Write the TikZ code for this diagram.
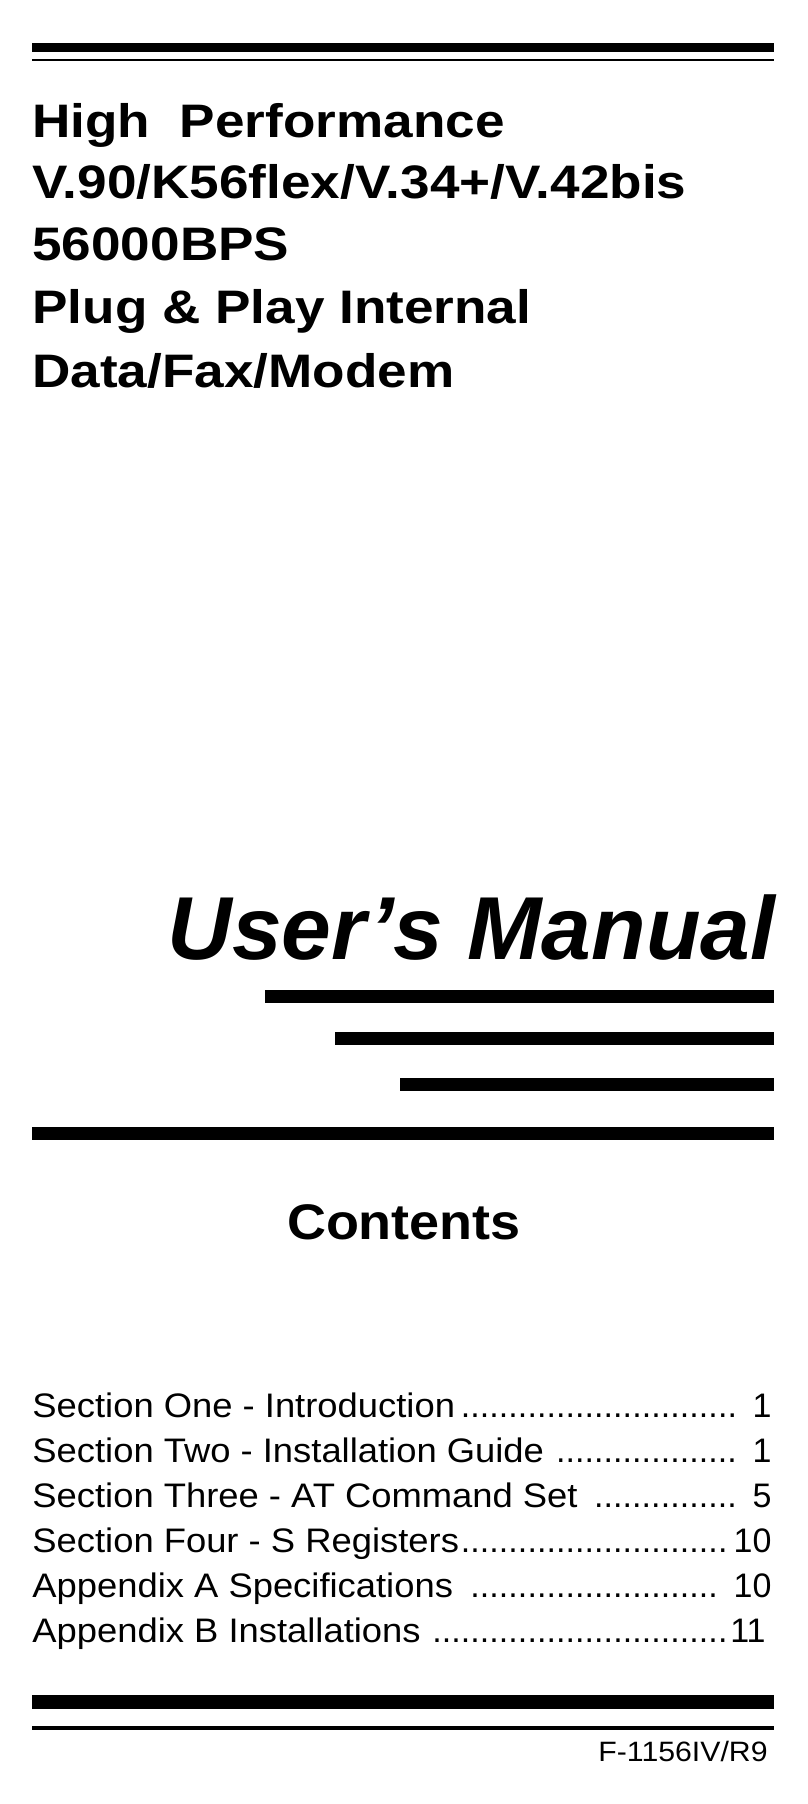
\documentclass[tikz,border=0pt]{standalone}
\usepackage{fontspec}
\setmainfont{Liberation Sans}
\newcommand{\tocdots}{\leaders\hbox to 0.28em{\hss.\hss}\hfill}
\begin{document}
\begin{tikzpicture}[x=0.5pt,y=0.5pt,yscale=-1,xscale=1]
\tikzset{title/.style={anchor=base west,inner sep=0pt,font=\fontsize{23.5}{26}\selectfont\bfseries},
toc/.style={anchor=base west,inner sep=0pt,font=\fontsize{17}{20}\selectfont}}
\useasboundingbox (0,0) rectangle (808,1804);

%Shape: Rectangle
\fill (32,43) -- (774,43) -- (774,52) -- (32,52) -- cycle ;
%Shape: Line
\draw [line width=1pt] (32,60) -- (774,60) ;

% Text Node
\node [title] (high) at (32,137) {\scalebox{1.13}[1]{High\ \ Performance}};
% Text Node
\node [title] (std) at (32,198) {\scalebox{1.13}[1]{V.90/K56flex/V.34+/V.42bis}};
% Text Node
\node [title] (bps) at (32,260) {\scalebox{1.13}[1]{56000BPS}};
% Text Node
\node [title] (pnp) at (32,323) {\scalebox{1.13}[1]{Plug\ \& Play\ Internal}};
% Text Node
\node [title] (dfm) at (32,387) {\scalebox{1.13}[1]{Data/Fax/Modem}};

% Text Node
\node [anchor=base east,inner sep=0pt,font=\fontsize{44.7}{48}\selectfont\bfseries\itshape] (manual) at (776,959) {User\char"0027 s Manual};

%Shape: Rectangle
\fill (265,990) -- (774,990) -- (774,1003) -- (265,1003) -- cycle ;
%Shape: Rectangle
\fill (335,1032) -- (774,1032) -- (774,1045) -- (335,1045) -- cycle ;
%Shape: Rectangle
\fill (400,1078) -- (774,1078) -- (774,1091) -- (400,1091) -- cycle ;
%Shape: Rectangle
\fill (32,1127) -- (774,1127) -- (774,1140) -- (32,1140) -- cycle ;

% Text Node
\node [anchor=base,inner sep=0pt,font=\fontsize{25}{28}\selectfont\bfseries] (contents) at (404,1239) {\scalebox{1.08}[1]{Contents}};

% Text Node
\node [toc] (s1) at (32,1417) {\makebox[369.5pt][l]{\scalebox{1.07}[1]{Section One - Introduction}\tocdots\ 1}};
% Text Node
\node [toc] (s2) at (32,1462) {\makebox[369.5pt][l]{\scalebox{1.07}[1]{Section Two - Installation Guide}\ \tocdots\ 1}};
% Text Node
\node [toc] (s3) at (32,1507) {\makebox[369.5pt][l]{\scalebox{1.07}[1]{Section Three - AT Command Set}\ \tocdots\ 5}};
% Text Node
\node [toc] (s4) at (32,1552) {\makebox[369.5pt][l]{\scalebox{1.07}[1]{Section Four\ - S Registers}\tocdots10}};
% Text Node
\node [toc] (aa) at (32,1597) {\makebox[369.5pt][l]{\scalebox{1.07}[1]{Appendix A Specifications}\ \tocdots\ 10}};
% Text Node
\node [toc] (ab) at (32,1642) {\makebox[366.5pt][l]{\scalebox{1.07}[1]{Appendix\ B\ Installations}\ \tocdots11}};

%Shape: Rectangle
\fill (32,1695) -- (774,1695) -- (774,1709) -- (32,1709) -- cycle ;
%Shape: Line
\draw [line width=2pt] (32,1728) -- (774,1728) ;

% Text Node
\node [anchor=base east,inner sep=0pt,font=\fontsize{14}{16}\selectfont] (code) at (768,1761) {\scalebox{1.08}[1]{F-1156IV/R9}};

\end{tikzpicture}
\end{document}
